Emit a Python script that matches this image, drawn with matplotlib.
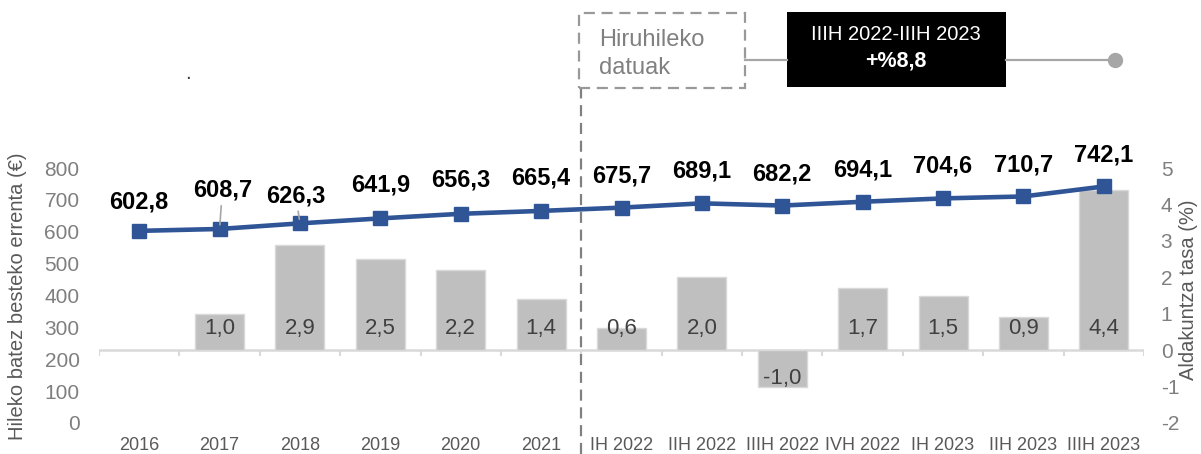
import numpy as np
import matplotlib
matplotlib.use("Agg")
import matplotlib.pyplot as plt
from matplotlib.patches import Rectangle
from matplotlib.lines import Line2D

plt.rcParams['font.family'] = ['Liberation Sans', 'DejaVu Sans']

# data
categories = ["2016", "2017", "2018", "2019", "2020", "2021",
              "IH 2022", "IIH 2022", "IIIH 2022", "IVH 2022",
              "IH 2023", "IIH 2023", "IIIH 2023"]
income = [602.8, 608.7, 626.3, 641.9, 656.3, 665.4, 675.7,
          689.1, 682.2, 694.1, 704.6, 710.7, 742.1]
change = [np.nan, 1.0, 2.9, 2.5, 2.2, 1.4, 0.6,
          2.0, -1.0, 1.7, 1.5, 0.9, 4.4]
left_ticks = [0, 100, 200, 300, 400, 500, 600, 700, 800]
right_ticks = [-2, -1, 0, 1, 2, 3, 4, 5]

W, H = 1201, 454
fig = plt.figure(figsize=(W / 100, H / 100), dpi=100)

def fx(x):
    return x / W

def fy(y):
    return 1 - y / H

# axes placed in pixel terms
left, right, top, bottom = 99, 1144, 168, 423
ax = fig.add_axes([fx(left), fy(bottom), fx(right - left), (bottom - top) / H])
ax2 = ax.twinx()

x = np.arange(len(categories))
grey_bar = "#bfbfbf"
blue = "#2f5597"
tick_grey = "#7f7f7f"

# bars (change rate) on base axes, scale shown on the right
ax.bar(x, change, width=0.61, color=grey_bar, edgecolor="#d9d9d9", linewidth=1, zorder=2)
ax.set_ylim(-2, 5)
ax.set_xlim(-0.5, len(categories) - 0.5)
ax.yaxis.tick_right()
ax.set_yticks(right_ticks)
ax.set_yticklabels([str(t) for t in right_ticks])
ax.tick_params(axis="y", length=0, pad=12, labelsize=15, labelcolor=tick_grey)
ax.set_xticks(x)
ax.set_xticklabels(categories)
ax.tick_params(axis="x", length=0, pad=10, labelsize=13, labelcolor="#595959")
for s in ax.spines.values():
    s.set_visible(False)

# zero line with category-boundary ticks
ax.axhline(0, color="#d9d9d9", lw=1.8, zorder=1)
bounds = np.arange(len(categories) + 1) - 0.5
ax.vlines(bounds, -0.15, 0, color="#d9d9d9", lw=1.5, zorder=1)

for xi, v in zip(x, change):
    if np.isnan(v):
        continue
    lab = f"{v:.1f}".replace(".", ",")
    yy = 0.6 if v > 0 else -0.78
    ax.text(xi, yy, lab, ha="center", va="center", fontsize=16, color="#404040", zorder=3)

# income line on twin axes, scale on the left
ax2.yaxis.tick_left()
ax2.plot(x, income, color=blue, lw=3.3, marker="s", markersize=10.5, zorder=4)
ax2.set_ylim(0, 800)
ax2.set_yticks(left_ticks)
ax2.tick_params(axis="y", length=0, pad=14, labelsize=15, labelcolor=tick_grey)
for s in ax2.spines.values():
    s.set_visible(False)

offsets = [21, 28, 20, 24, 24, 24, 23, 23, 23, 23, 23, 23, 23]
for i, (xi, v) in enumerate(zip(x, income)):
    lab = f"{v:.1f}".replace(".", ",")
    if i in (1, 2):
        dx = 2 if i == 1 else -3
        ax2.annotate(lab, (xi, v), xytext=(dx, offsets[i]), textcoords="offset points",
                     ha="center", va="center", fontsize=17, fontweight="bold", color="black",
                     arrowprops=dict(arrowstyle="-", color="#a6a6a6", lw=1.2,
                                     shrinkA=1, shrinkB=3), zorder=5)
    else:
        ax2.annotate(lab, (xi, v), xytext=(0, offsets[i]), textcoords="offset points",
                     ha="center", va="center", fontsize=17, fontweight="bold", color="black",
                     zorder=5)

# dashed separator between annual and quarterly data
ax.axvline(5.5, ymin=(bottom - 454) / (bottom - top), ymax=(bottom - 88) / (bottom - top),
           color="#808080", lw=1.6, ls=(0, (5, 3)), clip_on=False, zorder=6)

# axis titles
fig.text(fx(18), fy(296), "Hileko batez besteko errenta (€)", rotation=90,
         ha="center", va="center", fontsize=14.5, color="#595959")
fig.text(fx(1188), fy(290), "Aldakuntza tasa (%)", rotation=90,
         ha="center", va="center", fontsize=14.5, color="#595959")

# header boxes
fig.patches.append(Rectangle((fx(579), fy(88)), fx(745 - 579), (88 - 13) / H,
                             transform=fig.transFigure, fill=False, edgecolor="#999999",
                             lw=1.6, ls=(0, (5, 3))))
fig.text(fx(599), fy(40), "Hiruhileko", ha="left", va="center", fontsize=17, color="#808080")
fig.text(fx(599), fy(68), "datuak", ha="left", va="center", fontsize=17, color="#808080")

fig.lines.append(Line2D([fx(745), fx(787)], [fy(60), fy(60)], transform=fig.transFigure,
                        color="#a6a6a6", lw=1.6))
fig.lines.append(Line2D([fx(1006), fx(1115)], [fy(60), fy(60)], transform=fig.transFigure,
                        color="#a6a6a6", lw=1.6))
fig.lines.append(Line2D([fx(1115)], [fy(60)], transform=fig.transFigure,
                        color="#a6a6a6", marker="o", markersize=10, lw=0))

fig.patches.append(Rectangle((fx(787), fy(87)), fx(1006 - 787), (87 - 12) / H,
                             transform=fig.transFigure, facecolor="black", edgecolor="none"))
fig.text(fx(896), fy(35), "IIIH 2022-IIIH 2023", ha="center", va="center",
         fontsize=14.5, color="white")
fig.text(fx(896), fy(61), "+%8,8", ha="center", va="center",
         fontsize=15.5, fontweight="bold", color="white")

fig.text(fx(188), fy(74), ".", ha="center", va="center", fontsize=15, color="#404040")

fig.savefig("out.png", dpi=100)
